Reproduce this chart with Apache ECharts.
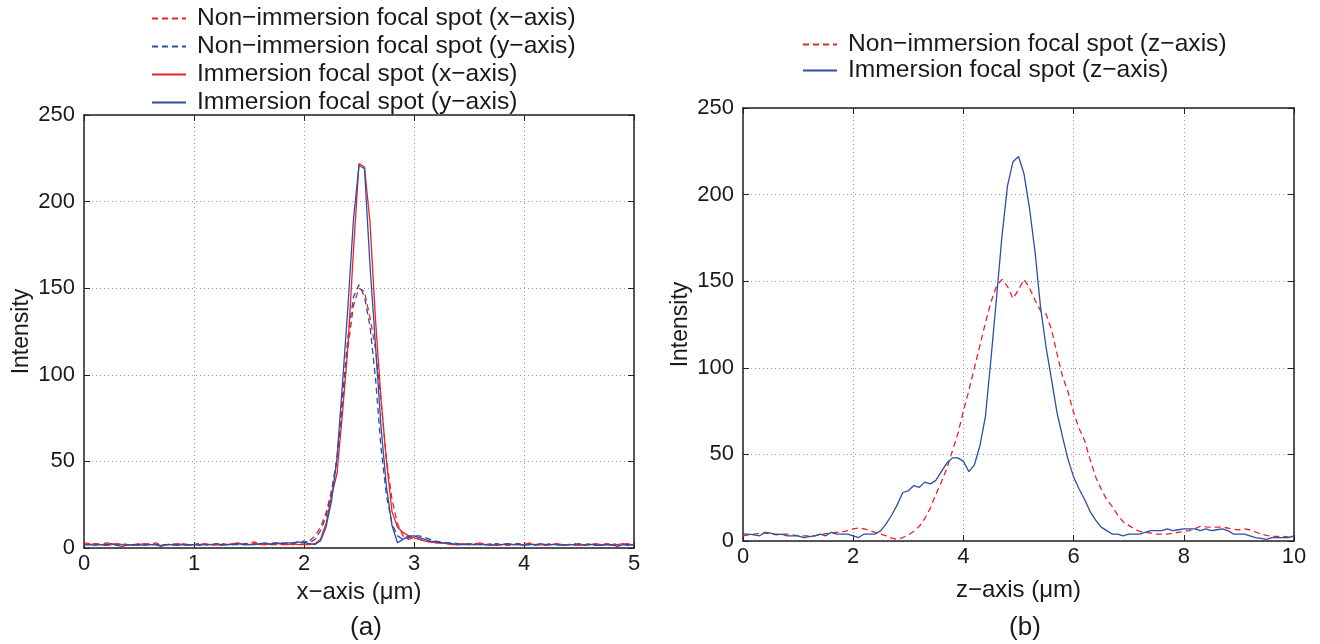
<!DOCTYPE html>
<html>
<head>
<meta charset="utf-8">
<script src="https://cdn.jsdelivr.net/npm/echarts@6/dist/echarts.min.js"></script>
<style>
html,body{margin:0;padding:0;background:#fff;}
#chart{width:1320px;height:644px;}
</style>
</head>
<body>
<div id="chart"></div>
<script>
// ---------- Data ----------
// (a) lateral profiles, sampled every 0.05 µm from 0 to 5 µm (101 samples, rows of 10)
const lateralStep = 0.05;
const nonImmX = [
  3,2.5,2,2,3,2.5,2,2,1.5,2,
  2.5,2,2,3,2,2,1.5,2,2.5,2,
  2,2.5,2,1.5,2,2.5,2,2,2.5,2,
  3,3.5,2,2.5,2,2,3,2.5,2,3,
  3,4,7,12,20,33,51,82,116,140,
  150,148,133,115,85,51,28,14,7,5,
  6,5,4,3.5,3,3,2.5,2,2,2.5,
  2,3,2,2,2.5,2,2,1.5,2,2.5,
  2,3,2,2,2,2.5,2,1.5,2,2.5,
  2,2,2,1.5,2,2.5,2,2,2,2.5,
  2];
const nonImmY = [
  2,2,2.5,2,1.5,2,2,2.5,2,2,
  1.5,2,2.5,2,2,2,2.5,2,2,1.5,
  2,2.5,2,2,2,2.5,2,2,2,2.5,
  2,2.5,2,2,3,2.5,2,3,3,3.5,
  4,3,5,10,18,32,52,88,122,145,
  152,145,128,98,58,30,14,7,5,6,
  7,7,6,5,4,3.5,3,3,2.5,2,
  2,2.5,2,2,2,2.5,2,2,2,2.5,
  2,2,1.5,2,2,2.5,2,2,2,1.5,
  2,2,2.5,1.5,2,2,2.5,2,2,1.5,
  2];
const immX = [
  2,2,2.5,2,1.5,2,2.5,2,2,1.5,
  2,2.5,2,2,1.5,2,2,2.5,2,1.5,
  2,2,2.5,2,2,1.5,2,2.5,3,2,
  2,2.5,2,2,2.5,3,2,2,2.5,2,
  2,2,2.5,5,14,30,43,78,117,172,
  222,220,188,132,86,50,21,12,9,7,
  6,5,4,3.5,3,3,2.5,2,2,2.5,
  2,2,3,2,2,1.5,2,2.5,2,2,
  2,2.5,2,2,1.5,2,2.5,2,2,2,
  1.5,2,2,2.5,2,2,1.5,2,2.5,2,
  2];
const immY = [
  2,2,1.5,2,2,2.5,1.5,1,2,2,
  2,1.5,2,2,1,2,2,1.5,2,2,
  2,1.5,2,2,2.5,2,2,2,2.5,2,
  2,2,2.5,3,2,3,2.5,3,3,3.5,
  3,2.5,2,4,12,27,52,95,140,190,
  221,219,163,117,70,35,13,3,5,7,
  7,6,5,4,3.5,3,3,2.5,2,2,
  2.5,2,2,2,1.5,2,2,2.5,2,2,
  1.5,2,2,2.5,2,2,2,1.5,2,2,
  2.5,1.5,2,2,1.5,2,2,1,2,2,
  1.5];

// (b) axial profiles, sampled every 0.1 µm from 0 to 10 µm (101 samples, rows of 20)
const axialStep = 0.1;
const nonImmZ = [
  3,3.5,4,4.5,4.6,4.2,4,4,4,3.5,3,3,3,3,3.5,4.2,4.7,5,5.2,6,
  7,7.5,7,6,5,4,3,1.7,1,2,3.5,5.6,8.5,13,19,27,34,42,52,62,
  75,87,100,113,126,138,147,151,147,140,145,151,146,139,133,131,122,108,95,86,
  74,65,58,47,37,30,24,20,15,11,9,7,5.6,5,4.5,4,4,4,4.5,5,
  5.5,6,7,8.5,8.2,8,8,8,7.5,6.8,6.5,7,6.5,5.2,4,3.2,2.7,2.7,2.7,2.3,
  2];
const immZ = [
  4,4,3.5,3,5,4.5,3.5,4,3,3,3,2,2.5,3,4,3,5,4,4,4,
  3,2,4,4,4,6,10,15,21,28,29,32,31,34,33,35,40,45,48,48,
  46,40,44,55,72,105,140,176,205,219,222,212,192,167,135,112,93,74,60,47,
  37,30,24,17,12,8,6,4,4,3,4,4,4,5,6,6,6,7,6,6.5,
  7,7,7,6,7,6,6.5,7,6,4,4,4,3,2,1.5,1,2,2,2,2,
  3];

// axis ticks
const yTicks = {min: 0, max: 250, interval: 50};
const xTicksA = {min: 0, max: 5, interval: 1};
const xTicksB = {min: 0, max: 10, interval: 2};

// ---------- Chart ----------
const RED = '#e8242a';
const BLUE = '#2e4ea6';
const FONT = 'Liberation Sans';
const TXT = '#1a1a1a';

function pairs(step, arr) {
  return arr.map((v, i) => [+(i * step).toFixed(3), v]);
}

const chart = echarts.init(document.getElementById('chart'), null, {renderer: 'canvas'});

function xAxisMain(gi, t, name, gap) {
  return {
    type: 'value', gridIndex: gi, position: 'bottom',
    min: t.min, max: t.max, interval: t.interval,
    name: name, nameLocation: 'middle', nameGap: gap,
    nameTextStyle: {fontFamily: FONT, fontSize: 24, color: TXT},
    axisLine: {show: true, onZero: false, lineStyle: {color: '#222', width: 1.5}},
    axisTick: {show: true, inside: true, length: 6, lineStyle: {color: '#222', width: 1}},
    axisLabel: {fontFamily: FONT, fontSize: 22, color: TXT, margin: 5},
    splitLine: {show: true, lineStyle: {color: '#9a9a9a', width: 1, type: [1, 3]}}
  };
}
function xAxisTop(gi, t) {
  return {
    type: 'value', gridIndex: gi, position: 'top',
    min: t.min, max: t.max, interval: t.interval,
    axisLine: {show: true, onZero: false, lineStyle: {color: '#222', width: 1.5}},
    axisTick: {show: true, inside: true, length: 6, lineStyle: {color: '#222', width: 1}},
    axisLabel: {show: false}, splitLine: {show: false}
  };
}
function yAxisMain(gi, name, gap) {
  return {
    type: 'value', gridIndex: gi, position: 'left',
    min: yTicks.min, max: yTicks.max, interval: yTicks.interval,
    name: name, nameLocation: 'middle', nameGap: gap, nameRotate: 90,
    nameTextStyle: {fontFamily: FONT, fontSize: 23, color: TXT},
    axisLine: {show: true, onZero: false, lineStyle: {color: '#222', width: 1.5}},
    axisTick: {show: true, inside: true, length: 6, lineStyle: {color: '#222', width: 1}},
    axisLabel: {fontFamily: FONT, fontSize: 22, color: TXT, margin: 9},
    splitLine: {show: true, lineStyle: {color: '#9a9a9a', width: 1, type: [1, 3]}}
  };
}
function yAxisRight(gi) {
  return {
    type: 'value', gridIndex: gi, position: 'right',
    min: yTicks.min, max: yTicks.max, interval: yTicks.interval,
    axisLine: {show: true, onZero: false, lineStyle: {color: '#222', width: 1.5}},
    axisTick: {show: true, inside: true, length: 6, lineStyle: {color: '#222', width: 1}},
    axisLabel: {show: false}, splitLine: {show: false}
  };
}
function line(name, data, xi, yi, color, dashed) {
  return {
    name: name, type: 'line', xAxisIndex: xi, yAxisIndex: yi,
    data: data, showSymbol: false, symbol: 'none', animation: false,
    lineStyle: {color: color, width: 1.3, type: dashed ? [6, 4] : 'solid'},
    itemStyle: {color: color}
  };
}

const legendText = {fontFamily: FONT, fontSize: 24.6, color: TXT, lineHeight: 24, padding: [0, 0, 0, 6]};

const option = {
  backgroundColor: '#fff',
  animation: false,
  title: [
    {text: '(a)', left: 361, top: 610, textAlign: 'center',
     textStyle: {fontFamily: FONT, fontSize: 26, fontWeight: 'normal', color: TXT}},
    {text: '(b)', left: 1020, top: 610, textAlign: 'center',
     textStyle: {fontFamily: FONT, fontSize: 26, fontWeight: 'normal', color: TXT}}
  ],
  legend: [
    {orient: 'vertical', left: 146, top: 1, itemWidth: 34, itemHeight: 14, itemGap: 3,
     itemStyle: {opacity: 0},
     textStyle: legendText,
     data: ['Non−immersion focal spot (x−axis)', 'Non−immersion focal spot (y−axis)',
            'Immersion focal spot (x−axis)', 'Immersion focal spot (y−axis)']},
    {orient: 'vertical', left: 797, top: 27, itemWidth: 34, itemHeight: 14, itemGap: 1,
     itemStyle: {opacity: 0},
     textStyle: legendText,
     data: ['Non−immersion focal spot (z−axis)', 'Immersion focal spot (z−axis)']}
  ],
  grid: [
    {left: 84, top: 115, width: 550, height: 433, show: false},
    {left: 743, top: 108, width: 551, height: 433, show: false}
  ],
  xAxis: [
    xAxisMain(0, xTicksA, 'x−axis (μm)', 31),
    xAxisMain(1, xTicksB, 'z−axis (μm)', 37),
    xAxisTop(0, xTicksA),
    xAxisTop(1, xTicksB)
  ],
  yAxis: [
    yAxisMain(0, 'Intensity', 51),
    yAxisMain(1, 'Intensity', 51),
    yAxisRight(0),
    yAxisRight(1)
  ],
  series: [
    line('Non−immersion focal spot (x−axis)', pairs(lateralStep, nonImmX), 0, 0, RED, true),
    line('Non−immersion focal spot (y−axis)', pairs(lateralStep, nonImmY), 0, 0, BLUE, true),
    line('Immersion focal spot (x−axis)', pairs(lateralStep, immX), 0, 0, RED, false),
    line('Immersion focal spot (y−axis)', pairs(lateralStep, immY), 0, 0, BLUE, false),
    line('Non−immersion focal spot (z−axis)', pairs(axialStep, nonImmZ), 1, 1, RED, true),
    line('Immersion focal spot (z−axis)', pairs(axialStep, immZ), 1, 1, BLUE, false)
  ]
};
chart.setOption(option);
</script>
</body>
</html>
